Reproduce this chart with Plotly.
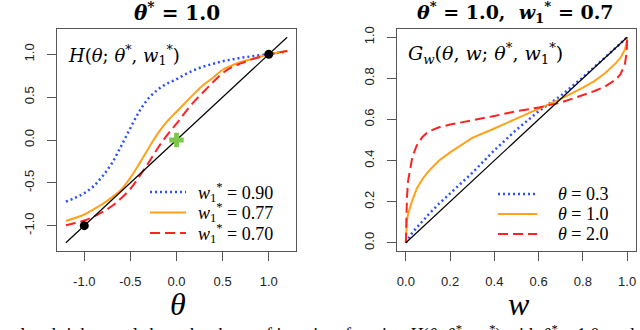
import plotly.graph_objects as go

W, H = 640, 330

# ---------------- data: left panel H(theta; theta*, w1*) ----------------
theta = [-1.2, -1.1, -1.0, -0.9, -0.8, -0.7, -0.6, -0.5, -0.4, -0.3, -0.2, -0.1,
         0.0, 0.1, 0.2, 0.3, 0.4, 0.5, 0.6, 0.7, 0.8, 0.9, 1.0, 1.1, 1.2]
H_w090 = [-0.72, -0.675, -0.62, -0.54, -0.42, -0.27, -0.07, 0.14, 0.34, 0.49, 0.59, 0.66,
          0.71, 0.77, 0.82, 0.86, 0.89, 0.92, 0.94, 0.96, 0.975, 0.99, 1.0, 1.02, 1.03]
H_w077 = [-0.945, -0.91, -0.87, -0.81, -0.745, -0.67, -0.58, -0.44, -0.27, -0.09, 0.08, 0.22,
          0.33, 0.44, 0.55, 0.65, 0.73, 0.82, 0.87, 0.91, 0.94, 0.97, 1.0, 1.02, 1.04]
H_w070 = [-0.995, -0.97, -0.94, -0.895, -0.84, -0.77, -0.68, -0.57, -0.42, -0.26, -0.09, 0.06,
          0.19, 0.33, 0.46, 0.57, 0.68, 0.78, 0.85, 0.895, 0.935, 0.97, 1.0, 1.02, 1.04]
diag_left = [-1.2, 1.2]
fixed_pts = [-1.0, 1.0]
origin_pt = [0.0]
left_labels = ["<i>w</i><sub>1</sub><sup>*</sup> = 0.90",
               "<i>w</i><sub>1</sub><sup>*</sup> = 0.77",
               "<i>w</i><sub>1</sub><sup>*</sup> = 0.70"]

# ---------------- data: right panel G_w(theta, w; theta*, w1*) ----------------
w = [0.0, 0.002, 0.005, 0.01, 0.02, 0.03, 0.05, 0.075, 0.1, 0.15, 0.2, 0.3, 0.4, 0.5,
     0.6, 0.7, 0.8, 0.85, 0.9, 0.95, 0.97, 0.99, 0.998, 1.0]
G_t03 = [0.0, 0.004, 0.01, 0.02, 0.035, 0.05, 0.075, 0.105, 0.135, 0.19, 0.24, 0.34, 0.45, 0.55,
         0.64, 0.715, 0.805, 0.852, 0.9, 0.95, 0.97, 0.99, 0.998, 1.0]
G_t10 = [0.0, 0.07, 0.11, 0.14, 0.18, 0.21, 0.265, 0.31, 0.345, 0.40, 0.44, 0.51, 0.556, 0.605,
         0.652, 0.70, 0.755, 0.785, 0.825, 0.875, 0.90, 0.94, 0.975, 1.0]
G_t20 = [0.0, 0.12, 0.22, 0.30, 0.37, 0.42, 0.475, 0.515, 0.54, 0.562, 0.575, 0.595, 0.617, 0.64,
         0.658, 0.682, 0.717, 0.737, 0.76, 0.795, 0.82, 0.87, 0.93, 1.0]
diag_right = [0.0, 1.0]
right_labels = ["<i>θ</i> = 0.3", "<i>θ</i> = 1.0", "<i>θ</i> = 2.0"]

xticks_left = [-1.0, -0.5, 0.0, 0.5, 1.0]
xticks_left_txt = ["-1.0", "-0.5", "0.0", "0.5", "1.0"]
yticks_left = [-1.0, -0.5, 0.0, 0.5, 1.0]
yticks_left_txt = ["-1.0", "-0.5", "0.0", "0.5", "1.0"]
ticks_right = [0.0, 0.2, 0.4, 0.6, 0.8, 1.0]
ticks_right_txt = ["0.0", "0.2", "0.4", "0.6", "0.8", "1.0"]

BLUE, ORANGE, RED, GREEN = "#2a50ff", "#ffa21a", "#ff2222", "#7dc84a"
DOT, DASH = "2px,3px", "10px,5px"
SERIF = "Liberation Serif"
DSERIF = "DejaVu Serif"
SANS = "Liberation Sans"
BOX = "#555555"

styles = [dict(color=BLUE, width=2.5, dash=DOT),
          dict(color=ORANGE, width=2, dash="solid"),
          dict(color=RED, width=2, dash=DASH)]

fig = go.Figure()

# left panel
for ys, st in zip([H_w090, H_w077, H_w070], styles):
    fig.add_trace(go.Scatter(x=theta, y=ys, mode="lines", showlegend=False,
                             line=dict(shape="spline", **st), xaxis="x", yaxis="y"))
fig.add_trace(go.Scatter(x=diag_left, y=diag_left, mode="lines", showlegend=False,
                         line=dict(color="black", width=1.2), xaxis="x", yaxis="y"))
fig.add_trace(go.Scatter(x=fixed_pts, y=fixed_pts, mode="markers", showlegend=False,
                         marker=dict(color="black", size=9), xaxis="x", yaxis="y"))
fig.add_trace(go.Scatter(x=origin_pt, y=origin_pt, mode="markers", showlegend=False,
                         marker=dict(color=GREEN, size=12, symbol="cross"), xaxis="x", yaxis="y"))

# right panel
for ys, st in zip([G_t03, G_t10, G_t20], styles):
    fig.add_trace(go.Scatter(x=w, y=ys, mode="lines", showlegend=False,
                             line=st, xaxis="x2", yaxis="y2"))
fig.add_trace(go.Scatter(x=diag_right, y=diag_right, mode="lines", showlegend=False,
                         line=dict(color="black", width=1.2), xaxis="x2", yaxis="y2"))

def px_x(p):
    return p / W

def px_y(p):
    return 1 - p / H

axis_common = dict(showgrid=False, zeroline=False, showline=True, mirror=True,
                   linecolor=BOX, linewidth=1, ticks="outside", ticklen=9,
                   tickcolor=BOX, tickwidth=1,
                   tickfont=dict(family=SANS, size=13, color="#222"))

fig.update_layout(
    width=W, height=H,
    margin=dict(l=0, r=0, t=0, b=0, autoexpand=False),
    paper_bgcolor="white", plot_bgcolor="white",
    showlegend=False,
    xaxis=dict(domain=[px_x(57), px_x(296)], range=[-1.296, 1.296], anchor="y",
               tickvals=xticks_left, ticktext=xticks_left_txt, ticklabelstandoff=9, **axis_common),
    yaxis=dict(domain=[px_y(251), px_y(29)], range=[-1.296, 1.296], anchor="x",
               tickvals=yticks_left, ticktext=yticks_left_txt, tickangle=-90,
               ticklabelstandoff=8, **axis_common),
    xaxis2=dict(domain=[px_x(397), px_x(636)], range=[-0.04, 1.04], anchor="y2",
                tickvals=ticks_right, ticktext=ticks_right_txt, ticklabelstandoff=9, **axis_common),
    yaxis2=dict(domain=[px_y(251), px_y(29)], range=[-0.04, 1.04], anchor="x2",
                tickvals=ticks_right, ticktext=ticks_right_txt, tickangle=-90,
                ticklabelstandoff=8, **axis_common),
)

ann = []
def add_text(text, x, y, size, xanchor="center", yanchor="middle", family=SERIF):
    ann.append(dict(text=text, x=px_x(x), y=px_y(y), xref="paper", yref="paper",
                    xanchor=xanchor, yanchor=yanchor, showarrow=False,
                    font=dict(family=family, size=size, color="black")))

shapes = []
# legend keys (left and right)
for i, (st, lab) in enumerate(zip(styles, left_labels)):
    yy = 192 + 20.5 * i
    shapes.append(dict(type="line", xref="paper", yref="paper",
                       x0=px_x(150), x1=px_x(186), y0=px_y(yy), y1=px_y(yy),
                       line=st))
    add_text(lab, 196, yy, 18, xanchor="left")
for i, (st, lab) in enumerate(zip(styles, right_labels)):
    yy = 194 + 20 * i
    shapes.append(dict(type="line", xref="paper", yref="paper",
                       x0=px_x(498), x1=px_x(537), y0=px_y(yy), y1=px_y(yy),
                       line=st))
    add_text(lab, 556, yy, 18, xanchor="left")

add_text("<b><i>θ</i><sup>*</sup> = 1.0</b>", 177, 12, 20, family=DSERIF)
add_text("<b><i>θ</i><sup>*</sup> = 1.0,  <i>w</i><sub>1</sub><sup>*</sup> = 0.7</b>", 515, 12, 19, family=DSERIF)
add_text("<i>H</i>(<i>θ</i>; <i>θ</i><sup>*</sup>, <i>w</i><sub>1</sub><sup>*</sup>)", 66, 55, 18,
         xanchor="left", family=DSERIF)
add_text("<i>G<sub>w</sub></i>(<i>θ</i>, <i>w</i>; <i>θ</i><sup>*</sup>, <i>w</i><sub>1</sub><sup>*</sup>)",
         406, 54, 19, xanchor="left", family=DSERIF)
add_text("<i>θ</i>", 178, 304, 32)
add_text("<i>w</i>", 519, 304, 32)
add_text("Left panel and right panel show the shape of iterative", 337, 334.5, 18, xanchor="right")
add_text("function <i>H</i>(<i>θ</i>; <i>θ</i><sup>*</sup>, <i>w</i><sub>1</sub><sup>*</sup>) with <i>θ</i><sup>*</sup> = 1.0, and",
         343, 334.5, 18, xanchor="left")
fig.update_layout(annotations=ann, shapes=shapes)

fig.write_html("out.html", config={"displayModeBar": False},
               post_script="document.body.style.margin='0';document.body.style.padding='0';"
                           "document.body.style.overflow='hidden';")
